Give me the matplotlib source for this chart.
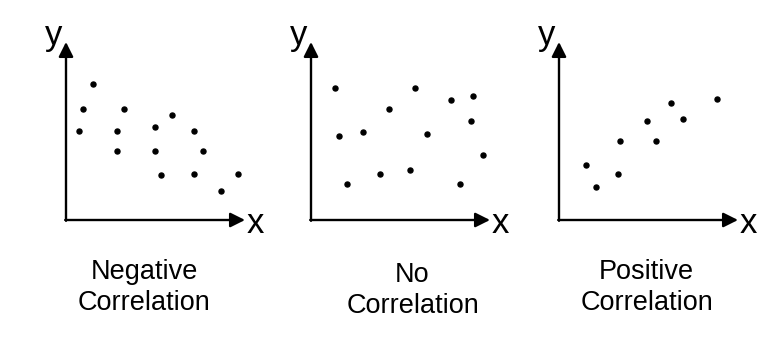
import matplotlib
matplotlib.use('Agg')
import matplotlib.pyplot as plt

plt.rcParams['font.family'] = ['Liberation Sans', 'DejaVu Sans']

# point positions, in pixels from each panel's axis corner
neg_x = [27, 17, 58, 13, 51, 106, 89, 128, 51, 89, 137, 95, 128, 172, 155]
neg_y = [136, 111, 111, 89, 89, 105, 93, 89, 69, 69, 69, 45, 46, 46, 29]

none_x = [24, 104, 140, 162, 78, 160, 28, 52, 116, 172, 69, 99, 36, 149]
none_y = [132, 132, 120, 124, 111, 99, 84, 88, 86, 65, 46, 50, 36, 36]

pos_x = [158, 112, 124, 88, 61, 97, 27, 59, 37]
pos_y = [121, 117, 101, 99, 79, 79, 55, 46, 33]

labels = ['Negative\nCorrelation', 'No\nCorrelation', 'Positive\nCorrelation']

W, H = 773, 347
fig = plt.figure(figsize=(W / 100, H / 100), dpi=100)

origins = [(66, 220), (311, 220), (559, 220)]
label_pos = [(144, 310), (412.5, 313), (646.5, 310)]
series = [(neg_x, neg_y), (none_x, none_y), (pos_x, pos_y)]

for (ox, oy), (xs, ys), lab, (lx, ly) in zip(origins, series, labels, label_pos):
    ax = fig.add_axes([ox / W, (H - oy) / H, 200 / W, 190 / H])
    ax.set_xlim(0, 200)
    ax.set_ylim(0, 190)
    ax.axis('off')

    ax.scatter(xs, ys, s=13, color='black', zorder=3, clip_on=False)

    arrow = dict(arrowstyle='-|>', color='black', lw=1.7,
                 mutation_scale=22, shrinkA=0, shrinkB=0)
    ax.annotate('', xy=(179, 0), xytext=(-0.8, 0), arrowprops=arrow,
                annotation_clip=False)
    ax.annotate('', xy=(0, 178), xytext=(0, -0.8), arrowprops=arrow,
                annotation_clip=False)

    ax.text(189, -13, 'x', fontsize=25, ha='center', va='baseline',
            clip_on=False)
    ax.text(-12, 175, 'y', fontsize=25, ha='center', va='baseline',
            clip_on=False)

    fig.text(lx / W, (H - ly) / H, lab, fontsize=19.5, ha='center',
             va='baseline', linespacing=1.27)

fig.savefig('out.png', dpi=100, facecolor='white')
